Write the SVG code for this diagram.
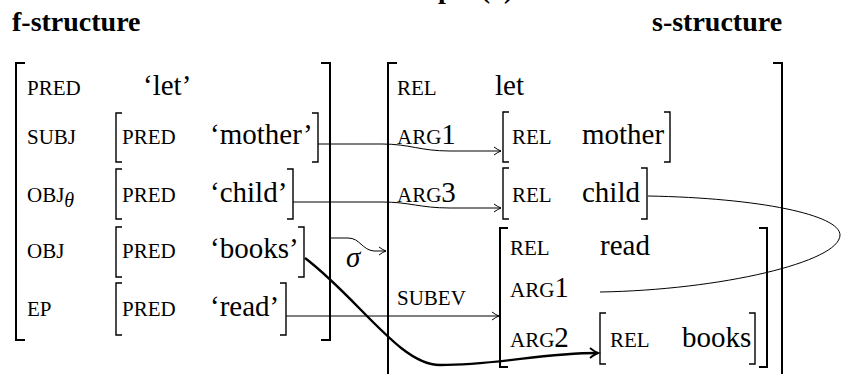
<svg xmlns="http://www.w3.org/2000/svg" width="842" height="374" viewBox="0 0 842 374" font-family="'Liberation Serif', 'Noto Serif', 'DejaVu Serif', serif">
  <defs>
    <style>
      .title { font-size: 28px; font-weight: bold; }
      .sc { font-size: 21px; }
      .val { font-size: 29px; }
      .num { font-size: 29px; }
      .it { font-style: italic; }
      .outer { fill: none; stroke: #000; stroke-width: 2; }
      .inner { fill: none; stroke: #000; stroke-width: 1.4; }
      .conn { fill: none; stroke: #000; stroke-width: 1; }
      .thick { fill: none; stroke: #000; stroke-width: 2.4; }
    </style>
    <marker id="tip" markerUnits="userSpaceOnUse" markerWidth="12" markerHeight="12" refX="10" refY="6" orient="auto">
      <path d="M3,2 Q7,5 10,6 Q7,7 3,10" fill="none" stroke="#000" stroke-width="1"/>
    </marker>
    <marker id="tipBold" markerUnits="userSpaceOnUse" markerWidth="14" markerHeight="14" refX="11" refY="7" orient="auto">
      <path d="M3,2 Q8,6 11,7 Q8,8 3,12" fill="none" stroke="#000" stroke-width="2"/>
    </marker>
  </defs>

  <!-- headings -->
  <text class="title" x="368" y="-2">Example (a)</text>
  <text class="title" x="12" y="31">f-structure</text>
  <text class="title" x="652" y="31">s-structure</text>

  <!-- f-structure -->
  <g id="f-structure">
    <path class="outer" d="M25,63 L16,63 L16,340 L25,340"/>
    <path class="outer" d="M321,63 L330,63 L330,340 L321,340"/>
    <text class="sc" x="27" y="95">PRED</text>
    <text class="val" x="143" y="95">‘let’</text>
    <text class="sc" x="27" y="144">SUBJ</text>
    <text class="sc" x="27" y="202">OBJ<tspan class="it" font-size="20" dy="5">θ</tspan></text>
    <text class="sc" x="27" y="258">OBJ</text>
    <text class="sc" x="27" y="316">EP</text>
  </g>

  <g id="f-mother">
    <path class="inner" d="M122,113 L116,113 L116,162 L122,162"/>
    <path class="inner" d="M312,113 L318,113 L318,162 L312,162"/>
    <text class="sc" x="122" y="144">PRED</text>
    <text class="val" x="210" y="144">‘mother’</text>
  </g>

  <g id="f-child">
    <path class="inner" d="M122,169 L116,169 L116,219 L122,219"/>
    <path class="inner" d="M287,169 L293,169 L293,219 L287,219"/>
    <text class="sc" x="122" y="202">PRED</text>
    <text class="val" x="210" y="202">‘child’</text>
  </g>

  <g id="f-books">
    <path class="inner" d="M122,227 L116,227 L116,277 L122,277"/>
    <path class="inner" d="M298,227 L304,227 L304,277 L298,277"/>
    <text class="sc" x="122" y="258">PRED</text>
    <text class="val" x="210" y="258">‘books’</text>
  </g>

  <g id="f-read">
    <path class="inner" d="M122,283 L116,283 L116,335 L122,335"/>
    <path class="inner" d="M280,283 L286,283 L286,335 L280,335"/>
    <text class="sc" x="122" y="316">PRED</text>
    <text class="val" x="210" y="316">‘read’</text>
  </g>

  <!-- s-structure -->
  <g id="s-structure">
    <path class="outer" d="M397,63 L388,63 L388,380"/>
    <path class="outer" d="M773,63 L782,63 L782,380"/>
    <text class="sc" x="397" y="95">REL</text>
    <text class="val" x="495" y="95">let</text>
    <text class="sc" x="397" y="144">ARG<tspan class="num">1</tspan></text>
    <text class="sc" x="397" y="202">ARG<tspan class="num">3</tspan></text>
    <text class="sc" x="397" y="305">SUBEV</text>
  </g>

  <g id="s-mother">
    <path class="inner" d="M509,112 L503,112 L503,162 L509,162"/>
    <path class="inner" d="M664,112 L670,112 L670,162 L664,162"/>
    <text class="sc" x="512" y="144">REL</text>
    <text class="val" x="582" y="144">mother</text>
  </g>

  <g id="s-child">
    <path class="inner" d="M509,168 L503,168 L503,219 L509,219"/>
    <path class="inner" d="M641,168 L647,168 L647,219 L641,219"/>
    <text class="sc" x="512" y="202">REL</text>
    <text class="val" x="582" y="202">child</text>
  </g>

  <g id="s-read">
    <path class="outer" d="M508,228 L500,228 L500,367 L508,367"/>
    <path class="outer" d="M759,228 L767,228 L767,367 L759,367"/>
    <text class="sc" x="510" y="255">REL</text>
    <text class="val" x="600" y="255">read</text>
    <text class="sc" x="510" y="297">ARG<tspan class="num">1</tspan></text>
    <text class="sc" x="510" y="347">ARG<tspan class="num">2</tspan></text>
  </g>

  <g id="s-books">
    <path class="inner" d="M606,313 L600,313 L600,364 L606,364"/>
    <path class="inner" d="M749,313 L755,313 L755,364 L749,364"/>
    <text class="sc" x="610" y="347">REL</text>
    <text class="val" x="682" y="347">books</text>
  </g>

  <!-- connectors -->
  <g id="connectors">
    <path class="conn" marker-end="url(#tip)" d="M318,144 L382,144 C410,144 420,151 450,151 L501,151"/>
    <path class="conn" marker-end="url(#tip)" d="M293,202 L382,202 C410,202 420,208 450,208 L501,208"/>
    <path class="conn" marker-end="url(#tip)" d="M330,238 L348,238 C360,238 362,250 374,251 L386,251"/>
    <text class="val it" x="346" y="267">σ</text>
    <path class="conn" marker-end="url(#tip)" d="M286,316 L499,316"/>
    <path class="conn" d="M648,196 C760,198 840,215 840,235 C840,262 720,290 600,292"/>
    <path class="thick" marker-end="url(#tipBold)" d="M305,258 C360,300 400,365 440,365 C500,365 540,353 598,353"/>
  </g>
</svg>
